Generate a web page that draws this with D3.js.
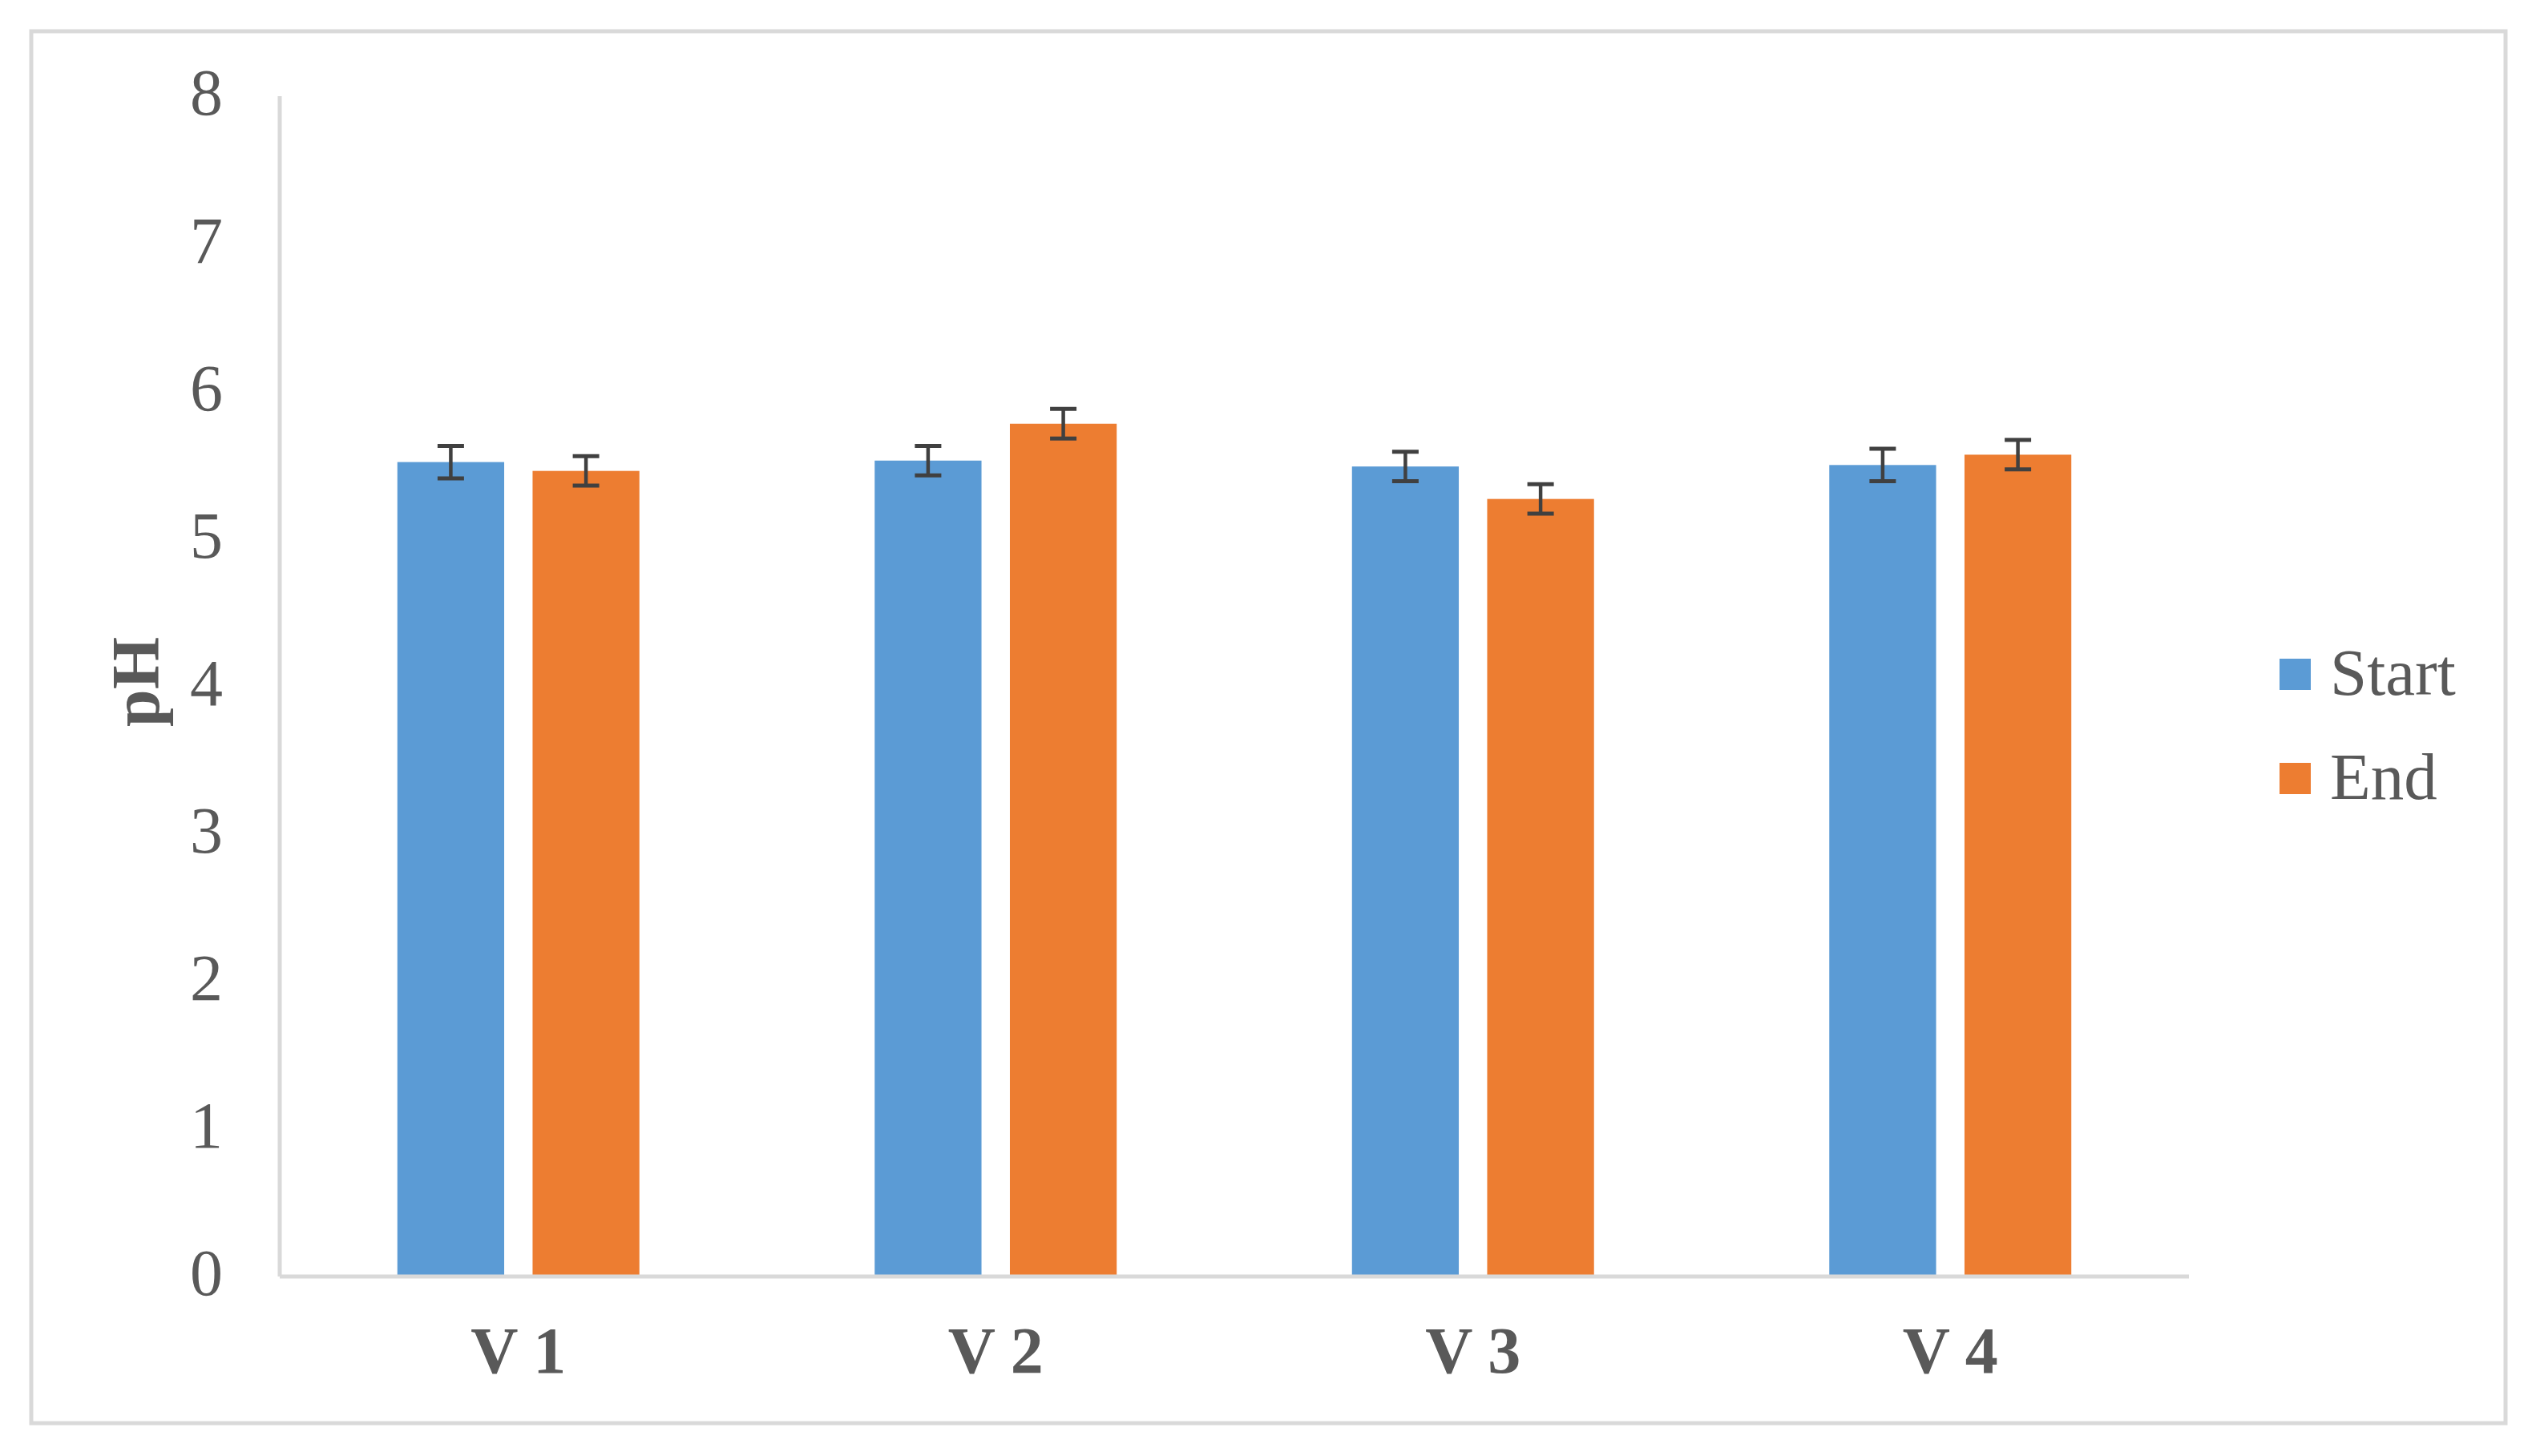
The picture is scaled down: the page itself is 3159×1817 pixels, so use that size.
<!DOCTYPE html>
<html>
<head>
<meta charset="utf-8">
<script src="https://cdn.jsdelivr.net/npm/d3@7"></script>
<style>
  html, body { margin: 0; padding: 0; background: #ffffff; }
  svg { display: block; }
</style>
</head>
<body>
<script>
const categories = ["V 1", "V 2", "V 3", "V 4"];
const seriesNames = ["Start", "End"];
const startValues = [5.52, 5.53, 5.49, 5.50];
const endValues = [5.46, 5.78, 5.27, 5.57];
const startErrors = [0.11, 0.10, 0.10, 0.11];
const endErrors = [0.10, 0.10, 0.10, 0.10];
const yTicks = [0, 1, 2, 3, 4, 5, 6, 7, 8];
const colors = ["#5B9BD5", "#ED7D31"];

const W = 3159, H = 1817;
const font = "'Liberation Serif', 'Times New Roman', serif";
const textColor = "#595959";
const axisColor = "#d9d9d9";

const svg = d3.select("body").append("svg").attr("width", W).attr("height", H);
svg.append("rect").attr("width", W).attr("height", H).attr("fill", "#fff");

// outer border
svg.append("rect").attr("x", 39).attr("y", 39).attr("width", 3087).attr("height", 1737)
  .attr("fill", "none").attr("stroke", axisColor).attr("stroke-width", 5);

const plotLeft = 349, plotRight = 2731, plotTop = 120, plotBottom = 1593;

const y = d3.scaleLinear().domain([0, 8]).range([plotBottom, plotTop]);
const x0 = d3.scaleBand().domain(categories).range([plotLeft, plotRight]).padding(0);
const x1 = d3.scaleBand().domain(seriesNames).range([0, x0.bandwidth()])
  .paddingInner(0.21).paddingOuter(0.87);

const data = categories.map((c, i) => ({
  cat: c,
  vals: [
    { s: "Start", v: startValues[i], e: startErrors[i], c: colors[0] },
    { s: "End", v: endValues[i], e: endErrors[i], c: colors[1] }
  ]
}));

// y axis
const yAxis = d3.axisLeft(y).tickValues(yTicks).tickSize(0).tickPadding(71).tickFormat(d3.format("d"));
const gy = svg.append("g").attr("transform", `translate(${plotLeft},0)`).call(yAxis);
gy.select(".domain").remove();
gy.selectAll("text").attr("font-family", font).attr("font-size", 82).attr("fill", textColor).attr("dy", "0.28em");

// axis lines
svg.append("line").attr("x1", plotLeft).attr("x2", plotLeft).attr("y1", plotTop).attr("y2", plotBottom)
  .attr("stroke", axisColor).attr("stroke-width", 5);

// bars
const groups = svg.append("g").selectAll("g").data(data).join("g")
  .attr("transform", d => `translate(${x0(d.cat)},0)`);
groups.selectAll("rect").data(d => d.vals).join("rect")
  .attr("x", d => x1(d.s)).attr("width", x1.bandwidth())
  .attr("y", d => y(d.v)).attr("height", d => y(0) - y(d.v))
  .attr("fill", d => d.c);

svg.append("line").attr("x1", plotLeft).attr("x2", plotRight).attr("y1", plotBottom).attr("y2", plotBottom)
  .attr("stroke", axisColor).attr("stroke-width", 5);

// error bars
const capW = 33;
const eb = groups.selectAll("g.err").data(d => d.vals).join("g").attr("class", "err");
eb.append("line")
  .attr("x1", d => x1(d.s) + x1.bandwidth() / 2).attr("x2", d => x1(d.s) + x1.bandwidth() / 2)
  .attr("y1", d => y(d.v + d.e)).attr("y2", d => y(d.v - d.e))
  .attr("stroke", "#404040").attr("stroke-width", 4.5);
eb.append("line")
  .attr("x1", d => x1(d.s) + x1.bandwidth() / 2 - capW / 2).attr("x2", d => x1(d.s) + x1.bandwidth() / 2 + capW / 2)
  .attr("y1", d => y(d.v + d.e)).attr("y2", d => y(d.v + d.e))
  .attr("stroke", "#404040").attr("stroke-width", 5);
eb.append("line")
  .attr("x1", d => x1(d.s) + x1.bandwidth() / 2 - capW / 2).attr("x2", d => x1(d.s) + x1.bandwidth() / 2 + capW / 2)
  .attr("y1", d => y(d.v - d.e)).attr("y2", d => y(d.v - d.e))
  .attr("stroke", "#404040").attr("stroke-width", 5);

// x labels
svg.append("g").selectAll("text").data(categories).join("text")
  .attr("x", d => x0(d) + x0.bandwidth() / 2).attr("y", 1713)
  .attr("text-anchor", "middle").attr("font-family", font).attr("font-size", 82)
  .attr("font-weight", "bold").attr("fill", textColor).text(d => d);

// y title
svg.append("text").attr("transform", "translate(198,851) rotate(-90)")
  .attr("text-anchor", "middle").attr("font-family", font).attr("font-size", 84)
  .attr("font-weight", "bold").attr("fill", textColor).text("pH");

// legend
const leg = svg.append("g").selectAll("g").data(seriesNames).join("g")
  .attr("transform", (d, i) => `translate(2844,${822 + i * 130})`);
leg.append("rect").attr("width", 39).attr("height", 39).attr("fill", (d, i) => colors[i]);
leg.append("text").attr("x", 63).attr("y", 45).attr("font-family", font).attr("font-size", 83)
  .attr("fill", textColor).text(d => d);
</script>
</body>
</html>
